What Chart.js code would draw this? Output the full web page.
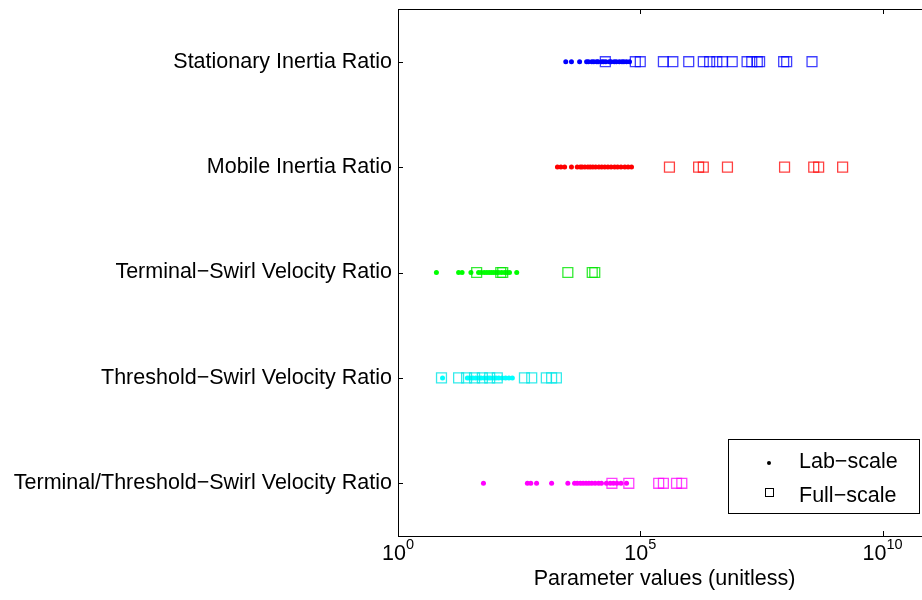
<!DOCTYPE html>
<html>
<head>
<meta charset="utf-8">
<script src="https://cdn.jsdelivr.net/npm/chart.js@4/dist/chart.umd.min.js"></script>
<style>
  html, body { margin: 0; padding: 0; background: #fff; overflow: hidden; }
  #wrap { width: 940px; height: 600px; }
</style>
</head>
<body>
<div id="wrap"><canvas id="chart" width="940" height="600"></canvas></div>
<script>
// Row names (top to bottom)
const rowNames = [
    'Stationary Inertia Ratio',
    'Mobile Inertia Ratio',
    'Terminal\u2212Swirl Velocity Ratio',
    'Threshold\u2212Swirl Velocity Ratio',
    'Terminal/Threshold\u2212Swirl Velocity Ratio'
];
const rowColors = ['#0000ff', '#ff0000', '#00ff00', '#00ffff', '#ff00ff'];
const rowSquareColors = ['rgba(0,0,255,0.75)', 'rgba(255,0,0,0.75)', 'rgba(0,230,0,0.8)', 'rgba(0,230,230,0.8)', 'rgba(255,0,255,0.75)'];

// Lab-scale values (dots)
const labStationary = [2.9e3, 3.8e3, 5.6e3, 7.8e3, 8.5e3, 1.0e4, 1.1e4, 1.26e4, 1.35e4, 1.6e4, 1.75e4, 1.95e4, 2.3e4, 2.5e4, 2.9e4, 3.2e4, 3.7e4, 4.2e4, 4.6e4, 5.2e4, 6.0e4];
const labMobile = [1.95e3, 2.3e3, 2.75e3, 3.8e3, 5.0e3, 5.8e3, 6.3e3, 7.2e3, 8.3e3, 9.3e3, 1.05e4, 1.2e4, 1.4e4, 1.6e4, 1.85e4, 2.15e4, 2.5e4, 2.95e4, 3.4e4, 4.0e4, 4.8e4, 5.6e4, 6.6e4];
const labTerminal = [6.2, 17.8, 21, 32, 46, 52, 60, 68, 76, 85, 95, 107, 120, 138, 158, 178, 200, 282];
const labThreshold = [8.3, 27, 30, 35, 40, 47, 52, 60, 71, 79, 91, 105, 120, 141, 166, 195, 229];
const labRatio = [58, 468, 550, 724, 1.48e3, 3.2e3, 4.4e3, 5.0e3, 5.8e3, 6.6e3, 7.6e3, 8.7e3, 1.0e4, 1.17e4, 1.38e4, 1.58e4, 2.0e4, 2.4e4, 2.8e4, 3.3e4, 4.0e4, 5.2e4];

// Full-scale values (squares)
const fullStationary = [1.9e4, 7.9e4, 1.0e5, 3.0e5, 4.7e5, 1.0e6, 2.0e6, 2.7e6, 3.8e6, 5.0e6, 7.9e6, 1.6e7, 2.0e7, 2.6e7, 2.9e7, 9.1e7, 1.05e8, 3.5e8];
const fullMobile = [4.0e5, 1.6e6, 2.0e6, 6.3e6, 9.5e7, 3.8e8, 4.8e8, 1.5e9];
const fullTerminal = [42, 132, 145, 3.2e3, 1.02e4, 1.15e4];
const fullThreshold = [7.9, 17.8, 26, 38, 55, 78, 112, 407, 575, 1.15e3, 1.48e3, 1.86e3];
const fullRatio = [2.6e4, 5.8e4, 2.4e5, 3.0e5, 5.6e5, 7.2e5];

const labRows = [labStationary, labMobile, labTerminal, labThreshold, labRatio];
const fullRows = [fullStationary, fullMobile, fullTerminal, fullThreshold, fullRatio];

// Axis ticks
const xTicks = [1, 1e5, 1e10];
const xTickExps = ['0', '5', '10'];
const xMin = 1;
const xMax = 1e11;
const legendNames = ['Lab\u2212scale', 'Full\u2212scale'];

const FONT = 'Liberation Sans, Arial, Helvetica, sans-serif';

const datasets = [];
rowNames.forEach((name, i) => {
    datasets.push({
        label: name + ' lab',
        data: labRows[i].map(v => ({ x: v, y: name })),
        pointStyle: 'circle',
        pointRadius: 2.5,
        pointBorderWidth: 0,
        backgroundColor: rowColors[i],
        borderColor: rowColors[i],
        order: 2
    });
    datasets.push({
        label: name + ' full',
        data: fullRows[i].map(v => ({ x: v, y: name })),
        pointStyle: 'rect',
        pointRadius: 7,
        pointBorderWidth: 1.3,
        backgroundColor: 'rgba(0,0,0,0)',
        borderColor: rowSquareColors[i],
        order: 1
    });
});

// Frame, ticks, superscript labels and legend
const framePlugin = {
    id: 'frame',
    afterDraw(chart) {
        const ctx = chart.ctx;
        const a = chart.chartArea;
        const xs = chart.scales.x;
        const ys = chart.scales.y;
        ctx.save();
        ctx.strokeStyle = '#000';
        ctx.lineWidth = 1;
        ctx.strokeRect(a.left + 0.5, a.top + 0.5, a.right - a.left, a.bottom - a.top);

        // x tick marks (inward, top and bottom)
        ctx.beginPath();
        xTicks.forEach(v => {
            const px = Math.round(xs.getPixelForValue(v)) + 0.5;
            ctx.moveTo(px, a.bottom);
            ctx.lineTo(px, a.bottom - 5);
            ctx.moveTo(px, a.top);
            ctx.lineTo(px, a.top + 5);
        });
        // y tick marks (inward, left)
        rowNames.forEach((n, i) => {
            const py = Math.round(ys.getPixelForValue(i)) + 0.5;
            ctx.moveTo(a.left, py);
            ctx.lineTo(a.left + 5, py);
        });
        ctx.stroke();

        // x tick labels 10^n
        ctx.fillStyle = '#000';
        ctx.textBaseline = 'alphabetic';
        xTicks.forEach((v, i) => {
            const px = xs.getPixelForValue(v);
            ctx.font = '21.5px ' + FONT;
            const w1 = ctx.measureText('10').width;
            ctx.font = '14.5px ' + FONT;
            const w2 = ctx.measureText(xTickExps[i]).width;
            const x0 = px - (w1 + w2) / 2;
            ctx.font = '21.5px ' + FONT;
            ctx.textAlign = 'left';
            ctx.fillText('10', x0, 560);
            ctx.font = '14.5px ' + FONT;
            ctx.fillText(xTickExps[i], x0 + w1, 549);
        });

        // legend
        const lx = 728.5, ly = 439.5, lw = 191, lh = 74;
        ctx.fillStyle = '#fff';
        ctx.fillRect(lx, ly, lw, lh);
        ctx.strokeRect(lx, ly, lw, lh);
        ctx.fillStyle = '#000';
        ctx.beginPath();
        ctx.arc(769, 463, 2, 0, Math.PI * 2);
        ctx.fill();
        ctx.strokeRect(765.5, 488.5, 8, 8);
        ctx.font = '21.5px ' + FONT;
        ctx.textAlign = 'left';
        ctx.fillText(legendNames[0], 799, 468);
        ctx.fillText(legendNames[1], 799, 502);
        ctx.restore();
    }
};

const chart = new Chart(document.getElementById('chart').getContext('2d'), {
    type: 'scatter',
    data: { datasets: datasets },
    options: {
        responsive: false,
        animation: false,
        events: [],
        layout: { padding: { top: 9, right: 9, left: 0, bottom: 0 } },
        plugins: {
            legend: { display: false },
            tooltip: { enabled: false }
        },
        scales: {
            x: {
                type: 'logarithmic',
                min: xMin,
                max: xMax,
                afterBuildTicks: axis => { axis.ticks = xTicks.map(v => ({ value: v })); },
                afterFit: axis => { axis.height = 64; axis.paddingLeft = 0; axis.paddingRight = 0; },
                grid: { display: false, drawTicks: false, tickLength: 0 },
                border: { display: false },
                ticks: { display: false },
                title: {
                    display: true,
                    text: 'Parameter values (unitless)',
                    color: '#000',
                    font: { family: FONT, size: 21.5 },
                    padding: { top: 0, bottom: 8 },
                    align: 'center'
                }
            },
            y: {
                type: 'category',
                labels: rowNames,
                offset: true,
                afterFit: axis => { axis.width = 398; axis.paddingTop = 0; axis.paddingBottom = 0; },
                grid: { display: false, drawTicks: false, tickLength: 0 },
                border: { display: false },
                ticks: {
                    color: '#000',
                    font: { family: FONT, size: 21.5 },
                    padding: 6
                }
            }
        }
    },
    plugins: [framePlugin]
});
</script>
</body>
</html>
